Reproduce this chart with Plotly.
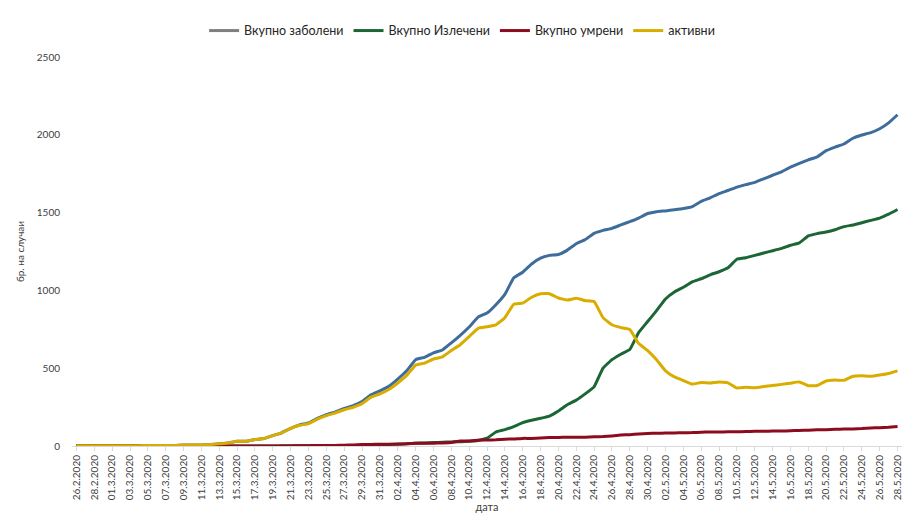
import pandas as pd
import plotly.graph_objects as go

# Categories: one per day, 26.2.2020 .. 28.5.2020
dates = [f"{d.day:02d}.{d.month}.{d.year}" for d in pd.date_range("2020-02-26", "2020-05-28")]

total = [1, 1, 1, 1, 1, 1, 1, 2, 3, 3, 3, 3, 7, 7, 7, 9, 14, 19, 31, 31, 42, 48, 67, 85, 114, 136,
         148, 177, 201, 219, 241, 259, 285, 329, 354,
         384, 430, 483, 555, 570, 599, 617, 663, 711, 765, 828, 854, 908, 974, 1081, 1117, 1170,
         1207, 1225, 1231, 1259, 1300, 1326, 1367, 1386, 1399, 1421, 1442, 1465, 1494,
         1506, 1511, 1518, 1526, 1539, 1572, 1595, 1622, 1642, 1664, 1680, 1694, 1717, 1740,
         1762, 1792, 1817, 1839, 1858, 1898, 1921, 1941, 1978, 1999, 2014, 2039, 2077, 2129]

recovered = [0] * 23 + [1, 1, 1, 2, 2, 2, 3, 3, 3, 4, 5, 8,
             10, 12, 15, 18, 20, 22, 24, 26, 28, 30, 35, 50, 90, 105, 125, 150, 165,
             178, 192, 225, 265, 295, 335, 380, 500, 555, 590, 620, 730, 800,
             870, 945, 990, 1020, 1055, 1075, 1100, 1120, 1145, 1200, 1210, 1225, 1240, 1255,
             1270, 1290, 1305, 1350, 1365, 1375, 1390, 1410, 1420, 1435, 1450, 1465, 1490, 1520]

deaths = [0] * 25 + [2, 2, 3, 4, 4, 5, 7, 9, 10, 11,
          11, 13, 14, 17, 17, 18, 20, 23, 32, 32, 37, 38, 40, 44, 45, 49, 49,
          51, 54, 55, 56, 56, 57, 59, 61, 65, 70, 73, 77, 81,
          82, 83, 84, 85, 86, 89, 90, 90, 91, 91, 93, 94, 95, 96,
          96, 98, 100, 102, 104, 105, 107, 109, 110, 112, 116, 118, 121, 126]

active = [1, 1, 1, 1, 1, 1, 1, 2, 3, 3, 3, 3, 7, 7, 7, 9, 14, 19, 31, 31, 42, 48, 67, 84, 113, 133,
          144, 172, 195, 212, 233, 249, 272, 314, 335,
          363, 405, 454, 520, 533, 559, 573, 614, 651, 703, 756, 766, 778, 825, 911, 918, 956,
          978, 979, 951, 938, 949, 934, 928, 825, 779, 761, 749, 658, 613,
          554, 483, 444, 421, 398, 408, 405, 412, 406, 373, 377, 375, 382, 389,
          396, 404, 412, 387, 389, 418, 424, 422, 448, 452, 448, 456, 466, 483]

names = ["Вкупно заболени", "Вкупно Излечени", "Вкупно умрени", "активни"]
line_colors = ["#3E6C9B", "#1B6634", "#8C0B1E", "#D9AD00"]
legend_colors = ["#7F7F7F", "#1B6634", "#8C0B1E", "#D9AD00"]
series = [total, recovered, deaths, active]

fig = go.Figure()
for name, vals, col in zip(names, series, line_colors):
    fig.add_trace(go.Scatter(x=dates, y=vals, mode="lines", name=name, showlegend=False,
                             line=dict(color=col, width=3, shape="spline", smoothing=0.3),
                             hoverinfo="x+y+name"))
for name, col in zip(names, legend_colors):
    fig.add_trace(go.Scatter(x=[None], y=[None], mode="lines", name=name,
                             line=dict(color=col, width=3)))

font = "Lato, 'Open Sans', sans-serif"
fig.update_layout(
    width=904, height=520,
    margin=dict(l=72, r=2, t=57, b=74),
    paper_bgcolor="white", plot_bgcolor="white",
    font=dict(family=font, size=10, color="#404040"),
    legend=dict(orientation="h", x=0.47, xanchor="center", y=1.067, yanchor="middle",
                font=dict(size=12.5, color="#262626"), itemwidth=30, tracegroupgap=0),
    xaxis=dict(
        type="category", range=[-0.5, len(dates) - 0.5],
        tickmode="array", tickvals=dates[::2], ticktext=dates[::2],
        tickangle=-90, tickfont=dict(size=10, color="#404040"),
        ticklabeloverflow="allow",
        showline=True, linecolor="#D9D9D9", linewidth=1,
        ticks="outside", ticklen=4, tickcolor="#D9D9D9",
        showgrid=False, zeroline=False,
        title=dict(text="дата", font=dict(size=11, color="#404040"), standoff=0),
        automargin=False,
    ),
    yaxis=dict(
        range=[0, 2500], tickvals=[0, 500, 1000, 1500, 2000, 2500],
        tickfont=dict(size=10, color="#404040"),
        showgrid=False, zeroline=False, showline=False,
        ticks="outside", ticklen=9, tickcolor="rgba(0,0,0,0)",
        title=dict(text="бр. на случаи", font=dict(size=10, color="#404040"), standoff=10),
        automargin=False,
    ),
)

fig.write_html("out.html", config={"displayModeBar": False},
               post_script="document.body.style.margin='0';document.body.style.overflow='hidden';")
